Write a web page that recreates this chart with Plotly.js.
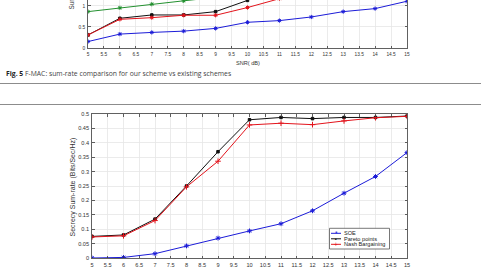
<!DOCTYPE html>
<html>
<head>
<meta charset="utf-8">
<script src="https://cdn.plot.ly/plotly-3.0.1.min.js"></script>
<style>
  html, body { margin: 0; padding: 0; width: 481px; height: 269px; overflow: hidden; background: #fff; }
  body { position: relative; }
  #fig5 { position: absolute; left: 0; top: -60px; width: 481px; height: 130px; }
  #fig6 { position: absolute; left: 0; top: 100px; width: 481px; height: 200px; }
  .rule { position: absolute; left: 0; width: 481px; height: 0; border-top: 1px solid #8c8c8c; }
  #cap { position: absolute; left: 6px; top: 70px; font-family: 'Open Sans', sans-serif; font-size: 6.8px;
         line-height: 8px; color: #444; white-space: nowrap; }
  #cap b { color: #222; }
</style>
</head>
<body>
<div id="fig5"></div>
<div id="cap"><b>Fig. 5</b> F-MAC: sum-rate comparison for our scheme vs existing schemes</div>
<div class="rule" style="top:83px"></div>
<div class="rule" style="top:104px"></div>
<div id="fig6"></div>
<script>
// ---- Fig. 5 (F-MAC sum-rate), lower part of the figure ----
const snrA = [5, 6, 7, 8, 9, 10, 11, 12, 13, 14, 15];
const sumBlue  = [0.153, 0.33, 0.37, 0.40, 0.465, 0.61, 0.65, 0.736, 0.863, 0.935, 1.11];
const sumRed   = [0.31, 0.68, 0.72, 0.777, 0.777, 0.96, 1.17];
const sumBlack = [0.31, 0.705, 0.784, 0.784, 0.863, 1.13];
const sumGreen = [0.863, 0.952, 1.04, 1.12, 1.20];

// ---- Fig. 6 (secrecy sum-rate) ----
const snrB = [5, 6, 7, 8, 9, 10, 11, 12, 13, 14, 15];
const soe    = [0.0, 0.002, 0.015, 0.042, 0.069, 0.094, 0.119, 0.164, 0.225, 0.283, 0.366];
const pareto = [0.075, 0.080, 0.135, 0.250, 0.369, 0.480, 0.488, 0.484, 0.488, 0.488, 0.493];
const nash   = [0.073, 0.077, 0.130, 0.247, 0.336, 0.462, 0.468, 0.463, 0.476, 0.487, 0.492];
const legendNames = ['SOE', 'Pareto points', 'Nash Bargaining'];

const BLUE = '#1c1cd8', RED = '#e3141c', BLACK = '#111111', GREEN = '#23902f';
const TICK = '#333333', AXIS = '#3a3a3a', GRID = '#e6e6e6';
const FONT = 'Liberation Sans, Arial, sans-serif';

function series(x, y, color, symbol, size) {
  return { x: x.slice(0, y.length), y: y, type: 'scatter', mode: 'lines+markers',
    line: { color: color, width: 1 },
    marker: { color: color, symbol: symbol, size: size, line: { color: color, width: 1 } },
    showlegend: false, hoverinfo: 'skip', cliponaxis: true };
}

function xAxis(fs) {
  return { range: [5, 15], dtick: 0.5, tick0: 5, ticks: 'inside', ticklen: 2.5, tickwidth: 0.8,
    tickcolor: AXIS, showline: true, linecolor: AXIS, linewidth: 0.8, mirror: 'allticks',
    showgrid: true, gridcolor: GRID, gridwidth: 0.8, zeroline: false,
    tickfont: { family: FONT, size: fs, color: TICK }, ticklabelstandoff: 1 };
}

// Fig. 5 plot (its upper part lies above the page)
const layoutA = {
  width: 481, height: 130, paper_bgcolor: 'rgba(0,0,0,0)', plot_bgcolor: '#fff',
  margin: { l: 88, r: 74, t: 49, b: 22 },
  xaxis: xAxis(4.8),
  yaxis: Object.assign(xAxis(4.8), { range: [0, 1.4], dtick: 0.5, tick0: 0 }),
  annotations: [
    { text: 'SNR( dB)', xref: 'paper', yref: 'paper', x: 0.503, y: -0.26, xanchor: 'center', yanchor: 'middle',
      showarrow: false, font: { family: FONT, size: 5.6, color: TICK } },
    { text: 'Sum-rate (Bits/Sec/Hz)', xref: 'paper', yref: 'paper', x: -0.05, y: 0.612, textangle: -90,
      xanchor: 'center', yanchor: 'bottom', showarrow: false, font: { family: FONT, size: 6.4, color: TICK } }
  ]
};
const tracesA = [
  series(snrA, sumGreen, GREEN, 'asterisk-open', 3.5),
  series(snrA, sumBlack, BLACK, 'square', 2.5),
  series(snrA, sumRed, RED, 'asterisk-open', 3.5),
  series(snrA, sumBlue, BLUE, 'asterisk-open', 3.5)
];
Plotly.newPlot('fig5', tracesA, layoutA, { staticPlot: true, displayModeBar: false });

// Fig. 6 plot
const L = 92, R = 407, T = 114, B = 258;           // plot box on the page, px
const px = v => (v - L) / (R - L);
const py = v => (B - v) / (B - T);

const legendColors = [BLUE, BLACK, RED];
const legendMarks = ['*', '\u25AA', '+'];
const legendRows = [233.3, 238.8, 244.3];

const shapes = [
  { type: 'rect', xref: 'paper', yref: 'paper', x0: px(329.5), x1: px(389.5), y0: py(228.3), y1: py(249),
    line: { color: '#555', width: 0.8 }, fillcolor: '#fff', layer: 'above' }
];
const annotations = [
  { text: 'Secrecy Sum-rate (Bits/Sec/Hz)', xref: 'paper', yref: 'paper', x: px(72), y: py(187.5),
    textangle: -90, xanchor: 'center', yanchor: 'middle', showarrow: false,
    font: { family: FONT, size: 7, color: TICK } }
];
legendNames.forEach((name, i) => {
  const yy = py(legendRows[i]);
  shapes.push({ type: 'line', xref: 'paper', yref: 'paper', x0: px(331), x1: px(341), y0: yy, y1: yy,
    line: { color: legendColors[i], width: 1 }, layer: 'above' });
  annotations.push({ text: legendMarks[i], xref: 'paper', yref: 'paper', x: px(336), y: yy,
    xanchor: 'center', yanchor: 'middle', showarrow: false,
    font: { family: FONT, size: i === 1 ? 5.5 : 6.5, color: legendColors[i] } });
  annotations.push({ text: name, xref: 'paper', yref: 'paper', x: px(342), y: yy,
    xanchor: 'left', yanchor: 'middle', showarrow: false,
    font: { family: FONT, size: 5.6, color: '#222' } });
});

const layoutB = {
  width: 481, height: 200, paper_bgcolor: 'rgba(0,0,0,0)', plot_bgcolor: '#fff',
  margin: { l: L, r: 481 - R, t: T - 100, b: 300 - B },
  xaxis: xAxis(5.6),
  yaxis: Object.assign(xAxis(5.6), { range: [0, 0.5], dtick: 0.05, tick0: 0 }),
  shapes: shapes,
  annotations: annotations
};
const tracesB = [
  series(snrB, soe, BLUE, 'asterisk-open', 4),
  series(snrB, pareto, BLACK, 'square', 2.5),
  series(snrB, nash, RED, 'cross-thin-open', 4)
];
Plotly.newPlot('fig6', tracesB, layoutB, { staticPlot: true, displayModeBar: false });
</script>
</body>
</html>
